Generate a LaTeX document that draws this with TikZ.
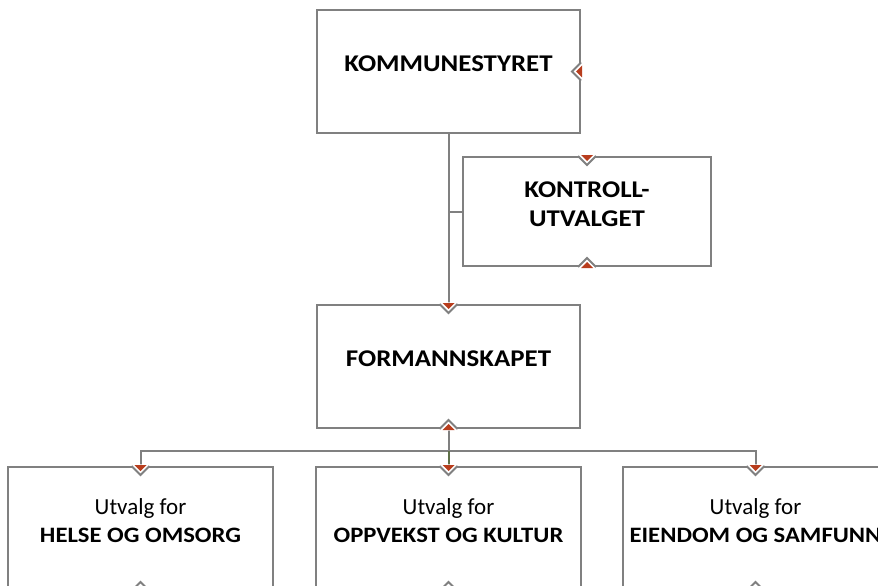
\documentclass[tikz,border=0pt]{standalone}
\usepackage{fontspec}
\setmainfont{Carlito}[BoldFeatures={FakeStretch=1.12}]
\usepackage{tikz}
\definecolor{boxgray}{HTML}{808080}
\definecolor{notchred}{HTML}{B83D1D}
\definecolor{linegreen}{HTML}{5E7048}
\tikzset{
  orgbox/.style={
    draw=boxgray,line width=2pt,fill=white,inner sep=0pt,align=center,
    minimum width=263pt,minimum height=123pt,
    font=\fontsize{24}{29}\selectfont\bfseries,
    execute at end node={\rule[-15.5pt]{0pt}{0pt}},
  },
  ctrlbox/.style={orgbox,minimum width=248pt,minimum height=109pt},
  unitbox/.style={orgbox,minimum width=265pt,font=\fontsize{23}{28}\selectfont,
    execute at end node={\rule[-5pt]{0pt}{0pt}}},
  conn/.style={draw=boxgray,line width=2pt},
  notch/.pic={
    \fill[white] (-10,-1.6) -- (10,-1.6) -- (0,8.6) -- cycle;
    \draw[boxgray,line width=2pt] (-9,0) -- (0,9) -- (9,0);
    \fill[notchred] (-6,-1) -- (6,-1) -- (0,5) -- cycle;
  },
}
\newcommand{\unitname}[1]{{\fontsize{22}{28}\selectfont\bfseries #1}}

\begin{document}
\begin{tikzpicture}[x=1pt,y=-1pt]
      \useasboundingbox (0,0) rectangle (878,586);
      \clip (0,0) rectangle (878,586);

      \node[orgbox] (komm) at (448.5,71.5) {KOMMUNESTYRET};
      \node[ctrlbox,below of=komm,node distance=140pt,xshift=138.5pt] (kontroll) {KONTROLL-\\UTVALGET};
      \node[orgbox,below of=komm,node distance=295pt] (formann) {FORMANNSKAPET};
      \node[unitbox,below of=formann,node distance=162pt] (kultur) {Utvalg for\\\unitname{OPPVEKST OG KULTUR}};
      \node[unitbox,left of=kultur,node distance=308pt] (helse) {Utvalg for\\\unitname{HELSE OG OMSORG}};
      \node[unitbox,right of=kultur,node distance=307pt] (eiendom) {Utvalg for\\\unitname{EIENDOM OG SAMFUNN}};
      \coordinate (bus) at (formann.south |- 0,451);

      \draw[conn] (komm.south) -- (formann.north);
      \draw[conn] (kontroll.west) -- (komm.south |- kontroll.west);
      \draw[conn] (formann.south) -- (bus);
      \draw[conn] (helse.north) |- (bus) -| (eiendom.north);
      \draw[conn,draw=linegreen] (bus) -- (kultur.north);

      % notches on the box edges
      \pic[rotate=-90] at (komm.east) {notch};
      \foreach \b in {kontroll,formann,helse,kultur,eiendom}{
        \pic at (\b.north) {notch};
        \pic[rotate=180] at (\b.south) {notch};
      }
\end{tikzpicture}
\end{document}
